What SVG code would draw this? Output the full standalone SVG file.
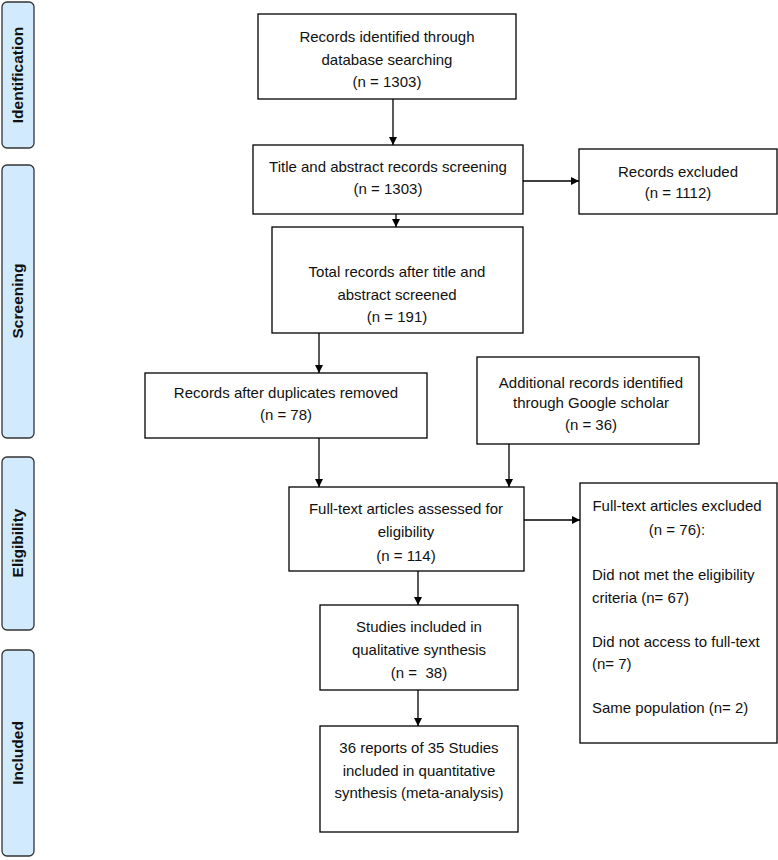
<svg xmlns="http://www.w3.org/2000/svg" width="778" height="860" viewBox="0 0 778 860">
<defs>
<style>
.box{fill:#fff;stroke:#000;stroke-width:1.3}
.side{fill:#d2ebfc;stroke:#333;stroke-width:1.3}
.t{font-family:"Liberation Sans",Arial,sans-serif;font-size:15px;fill:#111;text-anchor:middle}
.l{text-anchor:start}
.st{font-family:"Liberation Sans",Arial,sans-serif;font-size:15.5px;font-weight:bold;fill:#111;text-anchor:middle}
.c{stroke:#000;stroke-width:1.3;fill:none;marker-end:url(#ah)}
</style>
<marker id="ah" viewBox="0 0 10 10" refX="10" refY="5" markerWidth="8" markerHeight="8" markerUnits="userSpaceOnUse" orient="auto">
<path d="M0,0 L10,5 L0,10 z" fill="#000"/>
</marker>
</defs>
<rect width="778" height="860" fill="#fff"/>
<g id="phase-identification"><rect class="side" x="2" y="2" width="32" height="146" rx="5"/><text class="st" transform="translate(23,75) rotate(-90)">Identification</text></g>
<g id="phase-screening"><rect class="side" x="2" y="165" width="32" height="273" rx="5"/><text class="st" transform="translate(23,301) rotate(-90)">Screening</text></g>
<g id="phase-eligibility"><rect class="side" x="2" y="457" width="32" height="173" rx="5"/><text class="st" transform="translate(23,543) rotate(-90)">Eligibility</text></g>
<g id="phase-included"><rect class="side" x="2" y="650" width="32" height="206" rx="5"/><text class="st" transform="translate(23,753) rotate(-90)">Included</text></g>

<g id="n1"><rect class="box" x="258" y="14" width="258" height="85"/>
<text class="t" x="387" y="42">Records identified through</text><text class="t" x="387" y="65">database searching</text><text class="t" x="387" y="87">(n = 1303)</text></g>
<g id="n2"><rect class="box" x="253" y="145" width="270" height="69"/>
<text class="t" x="388" y="172">Title and abstract records screening</text><text class="t" x="388" y="194">(n = 1303)</text></g>
<g id="n3"><rect class="box" x="579" y="149" width="198" height="65"/>
<text class="t" x="678" y="177">Records excluded</text><text class="t" x="678" y="198">(n = 1112)</text></g>
<g id="n4"><rect class="box" x="272" y="227" width="251" height="106"/>
<text class="t" x="397" y="277">Total records after title and</text><text class="t" x="397" y="300">abstract screened</text><text class="t" x="397" y="322">(n = 191)</text></g>
<g id="n5"><rect class="box" x="145" y="373" width="282" height="65"/>
<text class="t" x="286" y="398">Records after duplicates removed</text><text class="t" x="286" y="420">(n = 78)</text></g>
<g id="n6"><rect class="box" x="477" y="357" width="222" height="87"/>
<text class="t" x="591" y="388">Additional records identified</text><text class="t" x="591" y="408">through Google scholar</text><text class="t" x="591" y="430">(n = 36)</text></g>
<g id="n7"><rect class="box" x="289" y="487" width="235" height="84"/>
<text class="t" x="406" y="514">Full-text articles assessed for</text><text class="t" x="406" y="537">eligibility</text><text class="t" x="406" y="561">(n = 114)</text></g>
<g id="n8"><rect class="box" x="580" y="483" width="197" height="260"/>
<text class="t" x="677" y="511">Full-text articles excluded</text><text class="t" x="677" y="535">(n = 76):</text>
<text class="t l" x="592" y="580">Did not met the eligibility</text><text class="t l" x="592" y="603">criteria (n= 67)</text>
<text class="t l" x="592" y="647">Did not access to full-text</text><text class="t l" x="592" y="669">(n= 7)</text>
<text class="t l" x="592" y="713">Same population (n= 2)</text></g>
<g id="n9"><rect class="box" x="320" y="605" width="198" height="85"/>
<text class="t" x="419" y="632">Studies included in</text><text class="t" x="419" y="655">qualitative synthesis</text><text class="t" x="419" y="678" xml:space="preserve">(n =  38)</text></g>
<g id="n10"><rect class="box" x="320" y="726" width="198" height="106"/>
<text class="t" x="419" y="753">36 reports of 35 Studies</text><text class="t" x="419" y="776">included in quantitative</text><text class="t" x="419" y="798">synthesis (meta-analysis)</text></g>

<g id="connectors">
<line class="c" x1="393" y1="99" x2="393" y2="145"/>
<line class="c" x1="523" y1="181" x2="579" y2="181"/>
<line class="c" x1="396" y1="214" x2="396" y2="227"/>
<line class="c" x1="319" y1="333" x2="319" y2="373"/>
<line class="c" x1="319" y1="438" x2="319" y2="487"/>
<line class="c" x1="509" y1="444" x2="509" y2="487"/>
<line class="c" x1="524" y1="520" x2="580" y2="520"/>
<line class="c" x1="418" y1="571" x2="418" y2="605"/>
<line class="c" x1="418" y1="690" x2="418" y2="726"/>
</g>
</svg>
